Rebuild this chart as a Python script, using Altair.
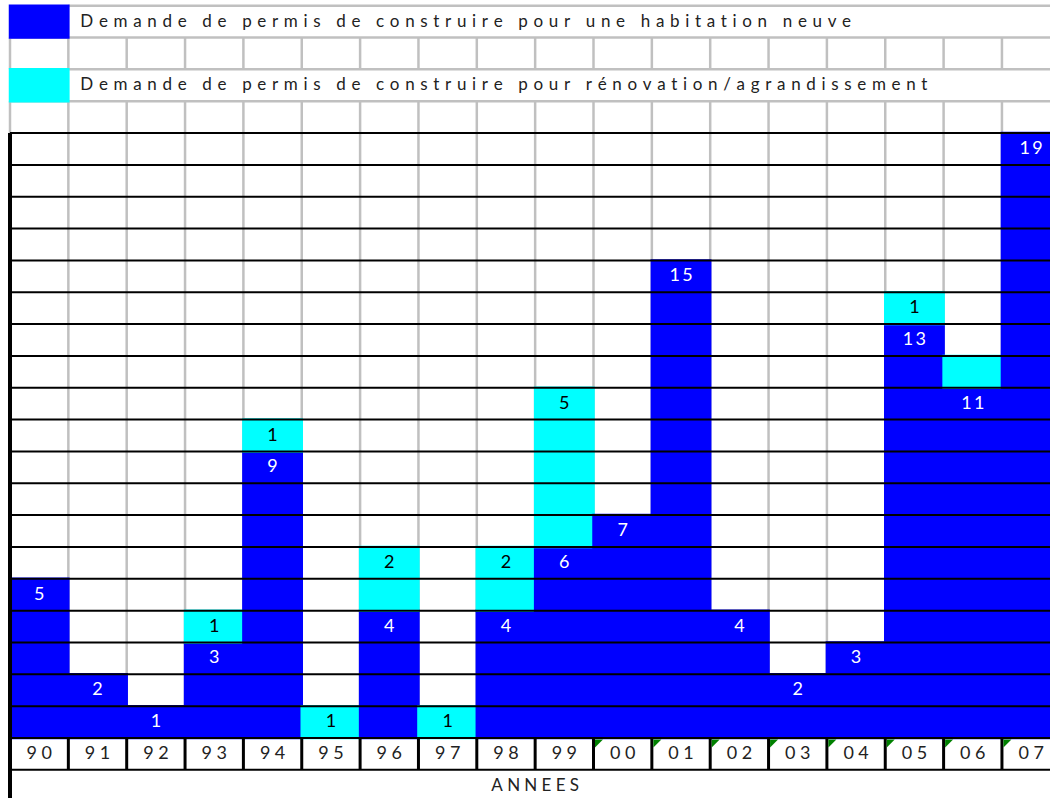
import altair as alt
import pandas as pd

# ---- data -------------------------------------------------------------
years = ["90", "91", "92", "93", "94", "95", "96", "97", "98",
         "99", "00", "01", "02", "03", "04", "05", "06", "07"]
# permits for new dwellings (blue) and renovation / extension (cyan)
neuve = [5, 2, 1, 3, 9, 0, 4, 0, 4, 6, 7, 15, 4, 2, 3, 13, 11, 19]
renov = [0, 0, 0, 1, 1, 1, 2, 1, 2, 5, 0, 0, 0, 0, 0, 1, 1, 0]
renov_label = [True] * 16 + [False, True]          # the 2006 renovation cell carries no number
text_years = ["00", "01", "02", "03", "04", "05", "06", "07"]  # cells stored as text (green corner)

legend_neuve = "Demande de permis de construire pour une habitation neuve"
legend_renov = "Demande de permis de construire pour rénovation/agrandissement"
axis_title = "ANNEES"
n_rows = 19

# ---- sheet geometry -----------------------------------------------------
W, H = 1050, 798
COL_W, LEFT = 58.35, 10.0      # column width and left edge (px)
ROW_H, BASE = 31.84, 738.0     # row height and bottom of the count area (px)
FONT = "Lato"
BLUE, CYAN, GRID = "#0000FF", "#00FFFF", "#C0C0C0"
n_cols = len(years)

xs = alt.Scale(domain=[-LEFT / COL_W, (W - LEFT) / COL_W], nice=False, zero=False)
ys = alt.Scale(domain=[(BASE - H) / ROW_H, BASE / ROW_H], nice=False, zero=False)


def spaced(s, gap="\u2009"):
    """Spread the letters, as the sheet's wide font does."""
    return gap.join(s)


WIDE = "\u2004"    # three-per-em space for the long header lines
MID = "\u2005"     # four-per-em space for years and the footer


def X(f):
    return alt.X(f, type="quantitative", scale=xs, axis=None)


def Y(f):
    return alt.Y(f, type="quantitative", scale=ys, axis=None)


# ---- tables -------------------------------------------------------------
cells = []
for i, (a, b) in enumerate(zip(neuve, renov)):
    if a > 0:
        cells.append(dict(x=i, x2=i + 1, y=0, y2=a, kind="neuve"))
    if b > 0:
        cells.append(dict(x=i, x2=i + 1, y=a, y2=a + b, kind="renov"))
# legend swatches in the header rows
cells.append(dict(x=0, x2=1, y=n_rows + 3, y2=n_rows + 4, kind="neuve"))
cells.append(dict(x=0, x2=1, y=n_rows + 1, y2=n_rows + 2, kind="renov"))
cells = pd.DataFrame(cells)

# light grey gridlines
gv = []
for k in range(n_cols + 1):
    gv.append(dict(x=k, y=0, y2=n_rows))
    gv.append(dict(x=k, y=n_rows, y2=n_rows + 1))
    gv.append(dict(x=k, y=n_rows + 2, y2=n_rows + 3))
gv = pd.DataFrame(gv)
gh = pd.DataFrame([dict(y=n_rows + 1, x=0, x2=n_cols),
                   dict(y=n_rows + 2, x=0, x2=n_cols),
                   dict(y=n_rows + 3, x=0, x2=n_cols),
                   dict(y=n_rows + 4, x=1, x2=n_cols)])

# black borders
bh = pd.DataFrame([dict(y=r, x=0, x2=n_cols) for r in range(-1, n_rows + 1)])
bv = pd.DataFrame([dict(x=k, y=-1, y2=0) for k in range(1, n_cols + 1)])
border = pd.DataFrame([dict(x=0, y=-2, y2=n_rows)])

# labels
lab_neuve = pd.DataFrame([dict(x=i + 0.5, y=a - 0.5, t=spaced(str(a)))
                          for i, a in enumerate(neuve) if a > 0])
lab_renov = pd.DataFrame([dict(x=i + 0.5, y=a + b - 0.5, t=spaced(str(b)))
                          for i, (a, b, s) in enumerate(zip(neuve, renov, renov_label))
                          if b > 0 and s])
lab_years = pd.DataFrame([dict(x=i + 0.5, y=-0.5, t=spaced(y, MID)) for i, y in enumerate(years)])
flags = pd.DataFrame([dict(x=years.index(y), y=0) for y in text_years])
heads = pd.DataFrame([dict(x=1, y=n_rows + 3.5, t=spaced(legend_neuve, WIDE)),
                      dict(x=1, y=n_rows + 1.5, t=spaced(legend_renov, WIDE))])
foot = pd.DataFrame([dict(x=n_cols / 2, y=-1.5, t=spaced(axis_title, MID))])

# ---- layers -------------------------------------------------------------
grid_v = alt.Chart(gv).mark_rule(color=GRID, strokeWidth=2.5, clip=True).encode(
    x=X("x"), y=Y("y"), y2="y2")
grid_h = alt.Chart(gh).mark_rule(color=GRID, strokeWidth=2.5, clip=True).encode(
    y=Y("y"), x=X("x"), x2="x2")

col = alt.Scale(domain=["neuve", "renov"], range=[BLUE, CYAN])
fills = alt.Chart(cells).mark_rect(strokeWidth=2.5, clip=True).encode(
    x=X("x"), x2="x2", y=Y("y"), y2="y2",
    fill=alt.Fill("kind:N", scale=col, legend=None),
    stroke=alt.Stroke("kind:N", scale=col, legend=None))

lines_h = alt.Chart(bh).mark_rule(color="black", strokeWidth=2, clip=True).encode(
    y=Y("y"), x=X("x"), x2="x2")
lines_v = alt.Chart(bv).mark_rule(color="black", strokeWidth=3, clip=True).encode(
    x=X("x"), y=Y("y"), y2="y2")
left = alt.Chart(border).mark_rule(color="black", strokeWidth=4, clip=True).encode(
    x=X("x"), y=Y("y"), y2="y2")

flag_marks = alt.Chart(flags).mark_point(
    shape="M -1 -1 L 1 -1 L -1 1 Z", size=64, filled=True, opacity=1,
    color="#008000", strokeWidth=0, xOffset=5.5, yOffset=5.5, clip=True
).encode(x=X("x"), y=Y("y"))

txt = dict(font=FONT, fontSize=18, baseline="middle", align="center", clip=True)
t_neuve = alt.Chart(lab_neuve).mark_text(color="white", **txt).encode(
    x=X("x"), y=Y("y"), text="t:N")
t_renov = alt.Chart(lab_renov).mark_text(color="black", **txt).encode(
    x=X("x"), y=Y("y"), text="t:N")
t_years = alt.Chart(lab_years).mark_text(color="#222222", **txt).encode(
    x=X("x"), y=Y("y"), text="t:N")
t_foot = alt.Chart(foot).mark_text(color="#222222", font=FONT, fontSize=17,
                                   baseline="middle", align="center").encode(
    x=X("x"), y=Y("y"), text="t:N")
t_heads = alt.Chart(heads).mark_text(color="#222222", font=FONT, fontSize=17,
                                     baseline="middle", align="left", dx=12).encode(
    x=X("x"), y=Y("y"), text="t:N")

chart = alt.layer(
    grid_v, grid_h, fills, lines_h, lines_v, left, flag_marks,
    t_neuve, t_renov, t_years, t_foot, t_heads
).properties(
    width=W, height=H, padding=0, autosize="none", background="white"
).configure_view(stroke=None)

chart.save("out.html", embed_options={"renderer": "svg", "actions": False})
